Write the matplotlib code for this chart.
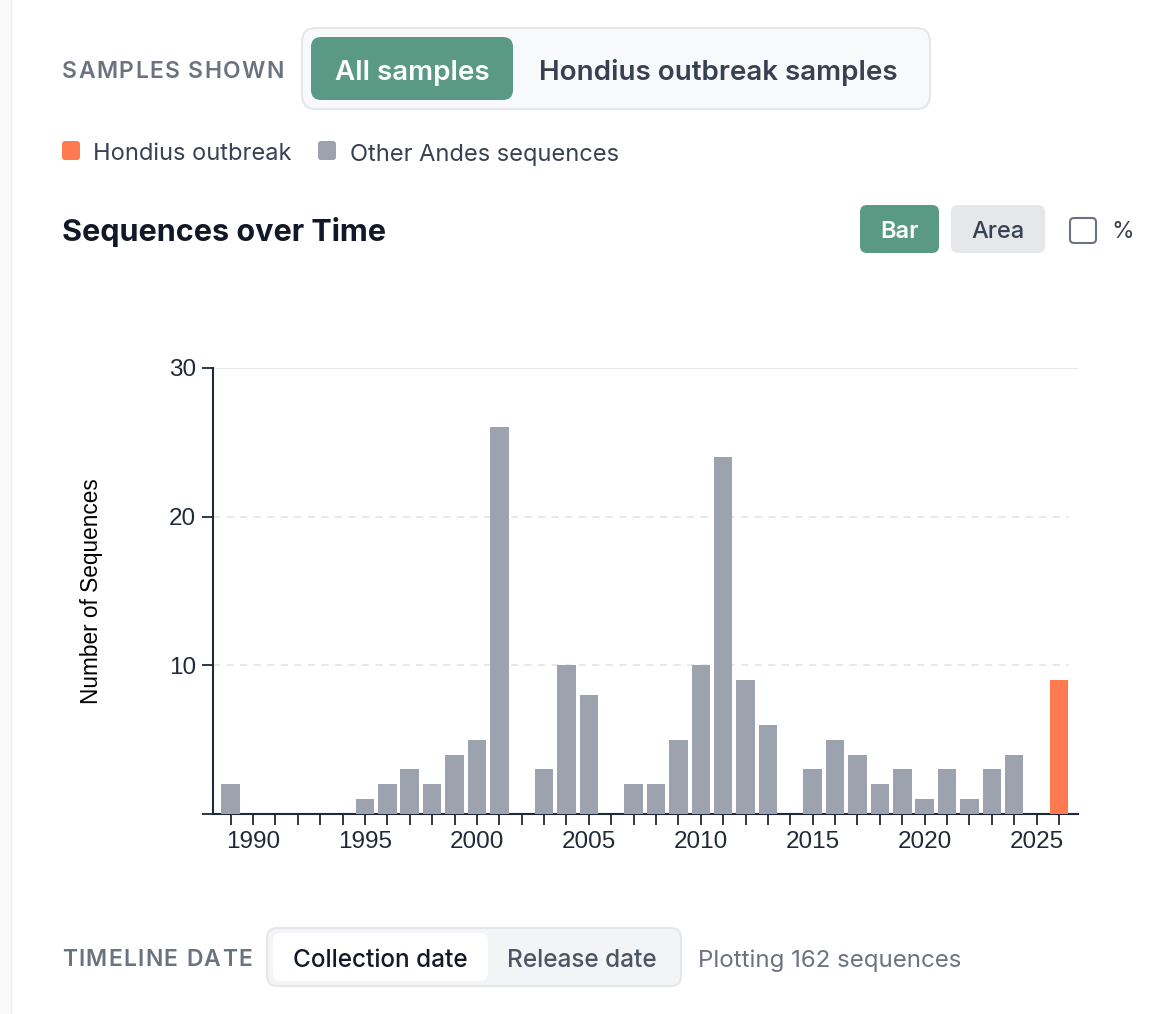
import matplotlib.pyplot as plt
from matplotlib.patches import FancyBboxPatch, Rectangle

# data
other_years = [1989, 1995, 1996, 1997, 1998, 1999, 2000, 2001, 2003, 2004, 2005,
               2007, 2008, 2009, 2010, 2011, 2012, 2013, 2015, 2016, 2017, 2018,
               2019, 2020, 2021, 2022, 2023, 2024]
other_counts = [2, 1, 2, 3, 2, 4, 5, 26, 3, 10, 8,
                2, 2, 5, 10, 24, 9, 6, 3, 5, 4, 2,
                3, 1, 3, 1, 3, 4]
hondius_years = [2026]
hondius_counts = [9]
year_ticks = list(range(1989, 2027))
y_ticks = [0, 10, 20, 30]
y_tick_labels = ['', '10', '20', '30']

GREEN = '#5a9a85'
GRAY = '#9ca3af'
ORANGE = '#ff7a50'
DARK = '#374151'
MUTED = '#6b7280'
UI = ['Inter', 'DejaVu Sans']
AX = ['Liberation Sans', 'DejaVu Sans']

W, H = 1160, 1014
fig = plt.figure(figsize=(W / 100, H / 100), dpi=100)
renderer = fig.canvas.get_renderer()

# overlay axes in pixel coordinates for the UI bits
ui = fig.add_axes([0, 0, 1, 1], zorder=0)
ui.set_xlim(0, W)
ui.set_ylim(H, 0)
ui.axis('off')


def box(x0, y0, x1, y1, fc, ec='none', r=10, lw=1.5):
    ui.add_patch(FancyBboxPatch((x0, y0), x1 - x0, y1 - y0,
                                boxstyle=f'round,pad=0,rounding_size={r}',
                                fc=fc, ec=ec, lw=lw))


def label(x, y, s, size, color, weight='normal', ha='left'):
    return ui.text(x, y, s, fontsize=size, color=color, fontweight=weight,
                   ha=ha, va='center_baseline', family=UI)


def text_width(s, size, weight):
    # width of s, measured with a bar at the end so trailing spaces count
    t = label(0, 0, s + '|', size, 'none', weight)
    b = label(0, 0, '|', size, 'none', weight)
    w = t.get_window_extent(renderer).width - b.get_window_extent(renderer).width
    t.remove()
    b.remove()
    return w


def spaced(x, y, s, size, color, weight, spacing):
    # uppercase labels with letter spacing, one character at a time
    for i, ch in enumerate(s):
        if ch != ' ':
            label(x + text_width(s[:i], size, weight) + i * spacing, y, ch, size, color, weight)


# page edge on the left
ui.add_patch(Rectangle((0, 0), 11, H, fc='#fafafa', ec='none'))
ui.plot([11, 11], [0, H], color='#eeeeee', lw=1)

# samples shown selector
spaced(62, 70, 'SAMPLES SHOWN', 16.5, MUTED, 'semibold', 1.4)
box(302, 28, 930, 109, '#f8f9fa', '#e5e7eb', r=14)
box(311, 37, 513, 100, GREEN, r=10)
label(412, 70, 'All samples', 20, 'white', 'semibold', ha='center')
label(718, 70, 'Hondius outbreak samples', 20, DARK, 'semibold', ha='center')

# legend
box(62, 141, 80, 160, ORANGE, r=3)
label(93, 152, 'Hondius outbreak', 17, DARK)
box(318, 141, 336, 160, GRAY, r=3)
label(350, 152, 'Other Andes sequences', 17, DARK)

# title and chart type buttons
label(62, 229, 'Sequences over Time', 22, '#111827', 'bold')
box(860, 205, 939, 253, GREEN, r=7)
label(900, 230, 'Bar', 17, 'white', 'semibold', ha='center')
box(951, 205, 1045, 253, '#e5e7eb', r=7)
label(998, 230, 'Area', 17, DARK, 'medium', ha='center')
box(1070, 218, 1096, 243, 'white', MUTED, r=4, lw=1.5)
label(1111, 230, '%', 16.5, DARK)

# timeline date selector
spaced(62, 958, 'TIMELINE DATE', 16.5, MUTED, 'semibold', 1.3)
box(267, 928, 681, 986, '#f3f4f6', '#e5e7eb', r=10)
box(273, 933, 488, 981, 'white', r=8)
label(380, 958, 'Collection date', 17.5, '#111827', 'medium', ha='center')
label(582, 958, 'Release date', 17.5, '#4b5563', 'medium', ha='center')
label(698, 958, 'Plotting 162 sequences', 17.3, MUTED)

# the chart itself
ax = fig.add_axes([213 / W, 200 / H, (1078 - 213) / W, (814 - 368) / H], zorder=1)
ax.patch.set_alpha(0)
ax.bar(other_years, other_counts, width=0.83, color=GRAY, zorder=3)
ax.bar(hondius_years, hondius_counts, width=0.83, color=ORANGE, zorder=3)

ax.set_xlim(1988.21, 2026.85)
ax.set_ylim(0, 30)
for v in [10, 20]:
    ax.axhline(v, xmax=0.99, color='#e5e7eb', lw=1.3, ls=(0, (4, 3.5)), zorder=1)
ax.axhline(30, color='#e5e7eb', lw=1.3, zorder=1)

ax.set_xticks(year_ticks)
ax.set_xticklabels([str(y) if y % 5 == 0 else '' for y in year_ticks])
ax.set_yticks(y_ticks)
ax.set_yticklabels(y_tick_labels)
ax.tick_params(axis='both', length=8, width=1.3, color='#1f2937',
               labelsize=17.5, labelcolor='#1f2937', pad=4)
for t in ax.get_xticklabels() + ax.get_yticklabels():
    t.set_family(AX)

for side in ['top', 'right']:
    ax.spines[side].set_visible(False)
for side in ['left', 'bottom']:
    ax.spines[side].set_color('#1f2937')
    ax.spines[side].set_linewidth(1.5)

ax.set_ylabel('Number of Sequences', fontsize=16.3, family=AX, color='black', labelpad=48)

fig.savefig('out.png', dpi=100)
